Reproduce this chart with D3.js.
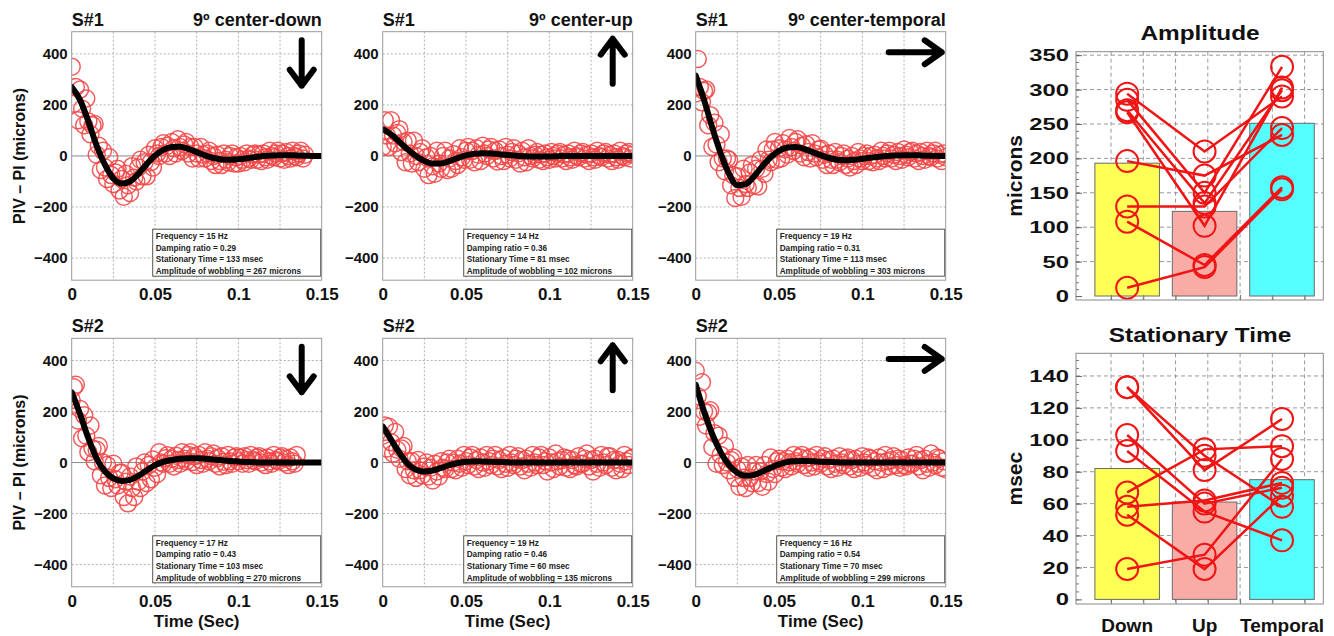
<!DOCTYPE html>
<html><head><meta charset="utf-8">
<script src="https://cdn.jsdelivr.net/npm/d3@7"></script>
<style>
body{margin:0;background:#fff;}
svg{display:block;}
</style></head><body>
<svg id="chart" width="1334" height="636"></svg>
<script>
// ================= DATA =================
const sampleStep = 0.00125; // seconds between measured samples
const fitStep = 0.005;      // seconds between points
const timeTicks = [0, 0.05, 0.1, 0.15];
const timeGrid = [0.025, 0.05, 0.075, 0.1, 0.125];
const pivTicks = [-400, -200, 0, 200, 400];
const rowLabels = ["S#1", "S#2"];
const colTitles = ["9º center-down", "9º center-up", "9º center-temporal"];
const directions = ["down", "up", "right"];

// measured PIV - PI (microns), one value per sample
const s1DownSamples = [350,205,270,140,260,185,120,225,135,85, 120,125,5,40,-55,20,-45,-90,-5,-75,
  -110,-65,-50,-135,-90,-160,-70,-115,-145,-40, -85,-100,-45,-15,-80,-25,-80,5,-25,-45,
  30,10,0,35,50,10,40,0,55,30, 10,65,35,20,45,55,10,35,-10,35,
  10,-10,35,5,-10,10,20,-20,0,-35, 5,-20,-35,10,-15,-25,0,10,-30,-5,
  -30,0,-15,-25,10,-10,-15,5,10,-15, 5,-20,10,-5,-15,20,0,-5,10,20,
  -10,10,-15,15,0,-10,20,0,-5,10, 20,-10,5];
const s1UpSamples = [35,140,80,35,140,80,50,90,105,15, 55,-25,60,10,-30,60,0,-25,15,30,
  -50,-5,-75,0,-40,-70,20,-30,-50,0, 20,-55,-10,-50,7,-20,-35,30,-5,-15,
  20,35,-15,20,-25,30,5,-20,40,10, 0,25,35,-10,20,-22,25,0,-20,35,
  5,-10,15,30,-15,10,-30,20,-5,-25, 30,0,-10,5,15,-15,5,-20,10,-5,
  -15,15,0,-10,10,15,-10,5,-20,10, -5,-15,20,0,-5,10,15,-10,5,-20,
  10,-5,-15,20,0,-5,10,15,-10,5, -20,10,-5,-15,20,0,-5,10,15,-10, 5];
const s1TemporalSamples = [245,380,270,210,255,260,120,160,35,130, 45,-25,85,-10,-60,-10,-15,-115,-75,-165,
  -80,-125,-160,-50,-110,-125,-65,-35,-115,-50, -120,-15,-50,-70,25,-15,-25,25,55,-15,
  30,-10,50,25,5,70,35,20,55,65, 10,40,-5,46,15,-10,50,10,-5,25,
  28,-15,5,-35,10,-15,-35,15,-15,-25, 0,10,-35,-10,-45,0,-20,-35,15,-10,
  -20,0,10,-20,0,-25,5,-10,-20,20, 0,-10,10,20,-10,5,-20,15,0,-15,
  25,5,-5,15,20,-10,10,-20,15,0, -15,20,0,-5,10,20,-10,5,-20,10, -5];
const s2DownSamples = [245,295,305,165,210,95,185,105,40,145, 55,5,50,65,-50,0,-90,-10,-60,-100,
  -5,-65,-90,-40,-40,-135,-75,-160,-55,-100, -135,-15,-75,-100,-35,0,-80,-10,-65,12,
  -20,-45,40,0,-5,17,29,-5,15,-15, 27,10,-5,40,15,5,30,40,2,25,
  -10,30,10,-5,40,15,5,25,35,-5, 18,-15,25,3,-10,30,5,-5,20,25,
  5,20,-5,25,10,-5,30,10,5,20, 25,0,15,-10,20,5,-5,30,10,5,
  20,25,0,15,-10,20,5,-5,30];
const s2UpSamples = [105,145,55,140,80,35,120,50,15,55, 65,-25,5,-50,5,-30,-60,10,-30,-50,
  -15,0,-55,-20,-70,-5,-35,-55,5,-20, -25,0,15,-25,0,-30,15,-5,-20,30,
  5,-10,20,30,-15,10,-25,20,0,-20, 30,5,-10,15,30,-15,10,-25,18,-5,
  -20,30,0,-10,15,25,-15,10,-30,15, -5,-20,30,0,-10,20,30,-10,5,-35,
  20,0,-25,35,5,-15,10,20,-20,15, -25,10,-10,-15,25,-5,-5,15,35,-15,
  10,-35,15,-5,-20,30,0,-10,25,25, -20,10,-30,10,-5,-25,30,5,-10,15, 20];
const s2TemporalSamples = [360,260,180,315,200,145,195,205,60,115, -5,105,30,-10,65,0,-30,10,20,-60,
  -25,-95,-15,-60,-100,-10,-60,-80,-35,-10, -80,-35,-95,-10,-45,-75,20,-25,-45,5,
  15,-20,5,-25,15,0,-15,30,5,-5, 20,30,-10,15,-20,20,0,-15,30,5,
  -5,15,25,-15,10,-25,15,-5,-20,25, 0,-10,15,20,-15,10,-25,15,-5,-20,
  25,0,-10,20,15,-20,5,-30,20,0, -25,30,5,-15,10,25,-10,15,-20,10,
  -10,-15,20,-5,-5,15,30,-15,10,-30, 15,-5,-20,35,0,-10,20,15,-20,5, -25];

// fitted damped-oscillation curve
const s1DownFit = [270,220,135,40,-35,-88,-108,-100,-70,-32,2,24,35,36,28,15,2,-8,-14,-15,-13,-9,-4,0,2,3,3,2,1,0,0];
const s1UpFit = [105,85,55,25,0,-20,-30,-30,-20,-8,2,9,11,10,7,4,1,-1,-2,-2,-2,-1,0,0,0,0,0,0,0,0,0];
const s1TemporalFit = [315,220,110,10,-70,-115,-110,-80,-40,-5,20,33,35,28,15,3,-8,-15,-17,-15,-11,-7,-3,0,2,3,3,2,1,0,0];
const s2DownFit = [275,190,95,15,-35,-62,-72,-68,-52,-30,-10,3,10,15,17,17,15,12,9,6,4,2,1,0,0,0,0,0,0,0,0];
const s2UpFit = [142,90,38,-5,-28,-35,-31,-21,-10,-2,3,4,4,3,2,1,0,0,0,0,0,0,0,0,0,0,0,0,0,0,0];
const s2TemporalFit = [305,200,110,40,-10,-40,-52,-48,-35,-20,-7,2,5,6,5,3,2,1,0,0,0,0,0,0,0,0,0,0,0,0,0];

const freqHz = [15, 14, 19, 17, 19, 16];
const dampingRatio = [0.29, 0.36, 0.31, 0.43, 0.46, 0.54];
const stationaryMs = [133, 81, 113, 103, 60, 70];
const amplitudeMicrons = [267, 102, 303, 270, 135, 299];

const barCategories = ["Down", "Up", "Temporal"];
const amplitudeMeans = [193, 123, 251];
const stationaryMeans = [82, 61, 75];
const amplitudeBySubject = [[294,210,290],[285,150,333],[270,135,299],[267,102,303],[196,175,234],[130,130,244],[108,45,158],[12,42,155]];
const stationaryBySubject = [[133,81,113],[103,60,70],[133,90,58],[93,55,37],[67,94,96],[58,62,73],[53,19,65],[19,28,88]];
const amplitudeTicks = [0,50,100,150,200,250,300,350];
const stationaryTicks = [0,20,40,60,80,100,120,140];

// ================= DRAWING =================
const svg = d3.select("#chart");
const FONT = '"Liberation Sans", Arial, Helvetica, sans-serif';
const defs = svg.append("defs");

const panelSamples = [s1DownSamples, s1UpSamples, s1TemporalSamples, s2DownSamples, s2UpSamples, s2TemporalSamples];
const panelFits = [s1DownFit, s1UpFit, s1TemporalFit, s2DownFit, s2UpFit, s2TemporalFit];

const colLeft = [71.7, 382.7, 695.7];
const rowTop = [31.7, 338.3];
const panelW = 250, panelH = 248.5;

function styleText(sel, size) {
  sel.attr("font-family", FONT).attr("font-weight", "bold").attr("font-size", size).attr("fill", "#111");
}

panelSamples.forEach((samples, k) => {
  const r = Math.floor(k / 3), c = k % 3;
  const x0 = colLeft[c], y0 = rowTop[r];
  const x = d3.scaleLinear().domain([0, 0.15]).range([x0, x0 + panelW]);
  const y = d3.scaleLinear().domain([-487, 487]).range([y0 + panelH, y0]);
  const g = svg.append("g");

  // grid
  g.append("g").selectAll("line").data(timeGrid).join("line")
    .attr("x1", d => x(d)).attr("x2", d => x(d)).attr("y1", y0).attr("y2", y0 + panelH)
    .attr("stroke", "#b0b0b0").attr("stroke-dasharray", "2,2");
  g.append("g").selectAll("line").data(pivTicks.filter(v => v !== 0)).join("line")
    .attr("x1", x0).attr("x2", x0 + panelW).attr("y1", d => y(d)).attr("y2", d => y(d))
    .attr("stroke", "#b0b0b0").attr("stroke-dasharray", "2,2");
  g.append("line").attr("x1", x0).attr("x2", x0 + panelW).attr("y1", y(0)).attr("y2", y(0))
    .attr("stroke", "#8a8a8a").attr("stroke-width", 1);

  // data
  const clipId = "clip" + k;
  defs.append("clipPath").attr("id", clipId).append("rect")
    .attr("x", x0).attr("y", y0).attr("width", panelW).attr("height", panelH);
  const dg = g.append("g").attr("clip-path", `url(#${clipId})`);
  dg.selectAll("circle").data(samples).join("circle")
    .attr("cx", (d, i) => x(i * sampleStep)).attr("cy", d => y(d)).attr("r", 8.5)
    .attr("fill", "none").attr("stroke", "#f24646").attr("stroke-opacity", 0.88).attr("stroke-width", 1.5);
  dg.append("path").datum(panelFits[k])
    .attr("d", d3.line().x((d, i) => x(i * fitStep)).y(d => y(d)).curve(d3.curveMonotoneX))
    .attr("fill", "none").attr("stroke", "#000").attr("stroke-width", 6)
    .attr("stroke-linejoin", "round").attr("stroke-linecap", "round");

  // frame
  g.append("rect").attr("x", x0).attr("y", y0).attr("width", panelW).attr("height", panelH)
    .attr("fill", "none").attr("stroke", "#9a9a9a");

  // axes
  const ya = g.append("g").attr("transform", `translate(${x0},0)`)
    .call(d3.axisLeft(y).tickValues(pivTicks).tickSize(0).tickPadding(4));
  ya.select(".domain").remove();
  ya.attr("font-size", null).attr("font-family", null);
  styleText(ya.selectAll("text"), 15);

  const xa = g.append("g").attr("transform", `translate(0,${y0 + panelH})`)
    .call(d3.axisBottom(x).tickValues(timeTicks).tickFormat(d3.format("")).tickSize(0).tickPadding(8));
  xa.select(".domain").remove();
  xa.attr("font-size", null).attr("font-family", null);
  styleText(xa.selectAll("text"), 17);

  // titles
  styleText(g.append("text").attr("x", x0).attr("y", y0 - 6).text(rowLabels[r]), 18);
  if (r === 0) {
    styleText(g.append("text").attr("x", x0 + panelW).attr("y", y0 - 6)
      .attr("text-anchor", "end").text(colTitles[c]), 18);
  }
  if (c === 0) {
    styleText(g.append("text").attr("transform", `translate(25,${y0 + panelH / 2}) rotate(-90)`)
      .attr("text-anchor", "middle").text("PIV – PI (microns)"), 16);
  }
  if (r === 1) {
    styleText(g.append("text").attr("x", x0 + panelW / 2).attr("y", 627)
      .attr("text-anchor", "middle").text("Time (Sec)"), 17);
  }

  // info box
  const bx = x0 + 81, bw = panelW - 82, by = y0 + panelH - 51, bh = 47;
  g.append("rect").attr("x", bx).attr("y", by).attr("width", bw).attr("height", bh)
    .attr("fill", "#fff").attr("stroke", "#555").attr("stroke-width", 1);
  const lines = [
    `Frequency = ${freqHz[k]} Hz`,
    `Damping ratio = ${dampingRatio[k]}`,
    `Stationary Time = ${stationaryMs[k]} msec`,
    `Amplitude of wobbling = ${amplitudeMicrons[k]} microns`
  ];
  g.append("g").selectAll("text").data(lines).join("text")
    .attr("x", bx + 3).attr("y", (d, i) => by + 10 + i * 11.6)
    .attr("font-family", FONT).attr("font-weight", "bold").attr("font-size", 8.2).attr("fill", "#222")
    .text(d => d);

  // direction arrow
  const dir = directions[c];
  let p;
  if (dir === "down") {
    const ax = x0 + panelW - 20, t = y0 + 8.5, b = y0 + 54;
    p = `M${ax},${t}L${ax},${b}M${ax - 12},${b - 16}L${ax},${b}L${ax + 12},${b - 16}`;
  } else if (dir === "up") {
    const ax = x0 + panelW - 20, t = y0 + 7, b = y0 + 52;
    p = `M${ax},${b}L${ax},${t}M${ax - 12},${t + 16}L${ax},${t}L${ax + 12},${t + 16}`;
  } else {
    const ay = y0 + 20.6, l = x0 + panelW - 57, rr = x0 + panelW - 4;
    p = `M${l},${ay}L${rr},${ay}M${rr - 17},${ay - 12}L${rr},${ay}L${rr - 17},${ay + 12}`;
  }
  g.append("path").attr("d", p).attr("fill", "none").attr("stroke", "#000").attr("stroke-width", 6)
    .attr("stroke-linecap", "round").attr("stroke-linejoin", "round");
});

// ---------- bar charts ----------
const barX = d3.scaleLinear().domain([-0.043, 3.79]).range([1076, 1323.3]);
const barGrid = [0.5, 1, 1.5, 2, 2.5, 3, 3.5];
const barFill = ["#ffff55", "#f9aba6", "#55ffff"];
const catPos = i => 0.75 + 1.2 * i;

function barChart(top, bottom, yDomain, ticks, minorStep, means, subjects, title, titleY, ylabel, showCats) {
  const g = svg.append("g");
  const y = d3.scaleLinear().domain(yDomain).range([bottom, top]);
  const left = barX.range()[0], right = barX.range()[1];

  g.append("g").selectAll("line").data(barGrid).join("line")
    .attr("x1", d => barX(d)).attr("x2", d => barX(d)).attr("y1", top).attr("y2", bottom)
    .attr("stroke", "#999").attr("stroke-dasharray", "4,3");
  g.append("g").selectAll("line").data(ticks.filter(v => v !== 0)).join("line")
    .attr("x1", left).attr("x2", right).attr("y1", d => y(d)).attr("y2", d => y(d))
    .attr("stroke", "#999").attr("stroke-dasharray", "4,3");

  g.append("g").selectAll("rect").data(means).join("rect")
    .attr("x", (d, i) => barX(catPos(i) - 0.5)).attr("width", (d, i) => barX(catPos(i) + 0.5) - barX(catPos(i) - 0.5))
    .attr("y", d => y(d)).attr("height", d => y(0) - y(d))
    .attr("fill", (d, i) => barFill[i]).attr("stroke", "#6a6a6a").attr("stroke-width", 1);

  const line = d3.line().x((d, i) => barX(catPos(i))).y(d => y(d));
  g.append("g").selectAll("path").data(subjects).join("path")
    .attr("d", line).attr("fill", "none").attr("stroke", "#f01414").attr("stroke-width", 2.5);
  g.append("g").selectAll("g").data(subjects).join("g")
    .selectAll("circle").data(d => d).join("circle")
    .attr("cx", (d, i) => barX(catPos(i))).attr("cy", d => y(d)).attr("r", 11)
    .attr("fill", "none").attr("stroke", "#f01414").attr("stroke-width", 2);

  g.append("rect").attr("x", left).attr("y", top).attr("width", right - left).attr("height", bottom - top)
    .attr("fill", "none").attr("stroke", "#888");

  const ya = g.append("g").attr("transform", `translate(${left},0)`)
    .call(d3.axisRight(y).tickValues(d3.range(0, yDomain[1], minorStep)).tickSize(3).tickFormat(""));
  ya.select(".domain").remove();
  ya.selectAll("line").attr("stroke", "#777");
  const yaMaj = g.append("g").attr("transform", `translate(${left},0)`)
    .call(d3.axisRight(y).tickValues(ticks).tickSize(6).tickFormat(""));
  yaMaj.select(".domain").remove();
  yaMaj.selectAll("line").attr("stroke", "#666");
  const xa = g.append("g").attr("transform", `translate(0,${bottom})`)
    .call(d3.axisTop(barX).tickValues(barGrid).tickSize(5).tickFormat(""));
  xa.select(".domain").remove();
  xa.selectAll("line").attr("stroke", "#777");

  g.append("g").selectAll("text").data(ticks).join("text")
    .attr("transform", d => `translate(${left - 7},${y(d)}) scale(1.4,1)`)
    .attr("dy", "0.36em").attr("text-anchor", "end")
    .attr("font-family", FONT).attr("font-weight", "bold").attr("font-size", 17).attr("fill", "#111")
    .text(d => d);

  g.append("text").attr("transform", `translate(1200,${titleY}) scale(1.22,1)`)
    .attr("text-anchor", "middle").attr("font-family", FONT).attr("font-weight", "bold")
    .attr("font-size", 20).attr("fill", "#111").text(title);

  styleText(g.append("text").attr("transform", `translate(1022,${(top + bottom) / 2}) rotate(-90)`)
    .attr("text-anchor", "middle").text(ylabel), 21);

  if (showCats) {
    g.append("g").selectAll("text").data(barCategories).join("text")
      .attr("x", (d, i) => barX(catPos(i))).attr("y", 632).attr("text-anchor", "middle")
      .attr("font-family", FONT).attr("font-weight", "bold").attr("font-size", 19).attr("fill", "#111")
      .text(d => d);
  }
}

barChart(51.7, 300, [-5.8, 355], amplitudeTicks, 10, amplitudeMeans, amplitudeBySubject, "Amplitude", 40, "microns", false);
barChart(353.3, 604, [-2.9, 154.2], stationaryTicks, 5, stationaryMeans, stationaryBySubject, "Stationary Time", 341.5, "msec", true);
</script>
</body></html>
